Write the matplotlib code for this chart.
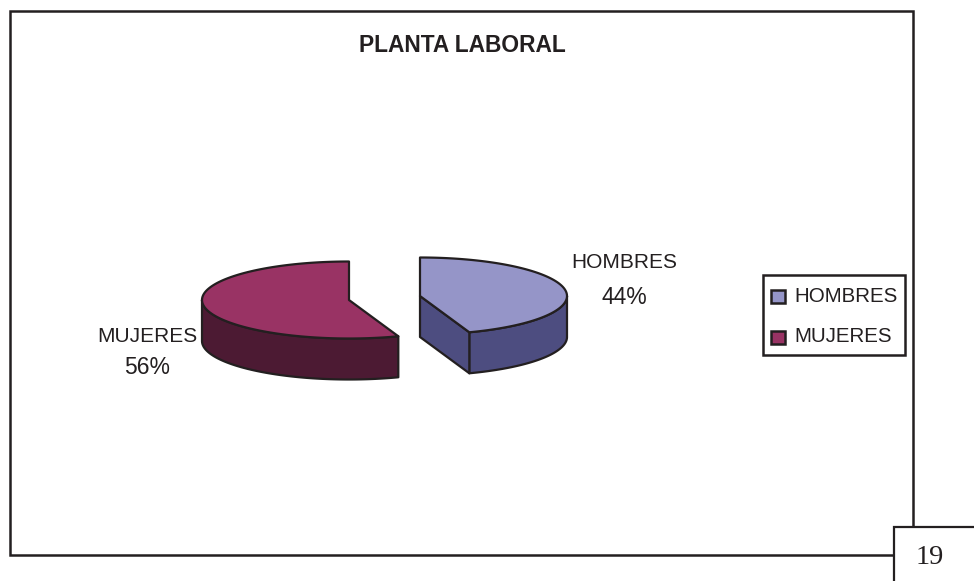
import numpy as np
import matplotlib
matplotlib.use("Agg")
import matplotlib.pyplot as plt
from matplotlib.patches import Polygon, Rectangle

# -----------------------------------------------------------------------------
# Data
# -----------------------------------------------------------------------------
categories = ["HOMBRES", "MUJERES"]
shares = [44, 56]
title = "PLANTA LABORAL"
page_number = "19"

top_colors = ["#9595c8", "#993364"]
side_colors = ["#4d4d80", "#4c1a33"]
INK = "#231f20"

plt.rcParams["font.family"] = ["Liberation Sans", "DejaVu Sans"]

# pixel coordinates, y pointing down
fig = plt.figure(figsize=(9.74, 5.81), dpi=100)
ax = fig.add_axes([0, 0, 1, 1])
ax.set_xlim(0, 974)
ax.set_ylim(581, 0)
ax.axis("off")

RX, RY, DEPTH = 147, 38.5, 41
VIEW_SKEW = 2  # the 3D view pushes the front cut a little further round


def rim(cx, cy, a0, a1):
    # angles in degrees, counterclockwise seen on screen
    t = np.radians(np.linspace(a0, a1, 120))
    return np.column_stack([cx + RX * np.cos(t), cy - RY * np.sin(t)])


def draw_slice(cx, cy, a0, a1, top, side):
    # outer wall: only the part of the rim facing the viewer (below the centre)
    lo = max(a0, 180)
    hi = min(a1, 360)
    if hi > lo:
        r = rim(cx, cy, lo, hi)
        wall = np.vstack([r, (r + [0, DEPTH])[::-1]])
        ax.add_patch(Polygon(wall, fc=side, ec=INK, lw=1.6, joinstyle="round"))
    # cut face on the clockwise end of a slice whose end lies front right
    if np.cos(np.radians(a0)) > 0 and a0 > 180:
        e = rim(cx, cy, a0, a0)[0]
        face = [(cx, cy), e, e + [0, DEPTH], (cx, cy + DEPTH)]
        ax.add_patch(Polygon(face, fc=side, ec=INK, lw=1.6, joinstyle="round"))
    pts = np.vstack([[(cx, cy)], rim(cx, cy, a0, a1)])
    ax.add_patch(Polygon(pts, fc=top, ec=INK, lw=1.6, joinstyle="round"))


# first slice runs clockwise from 12 o'clock, the second takes the rest
sweep = 360 * shares[0] / sum(shares)
end_angle = 90 - sweep - VIEW_SKEW + 360
draw_slice(420, 296, end_angle, 450, top_colors[0], side_colors[0])
draw_slice(349, 300, 90, end_angle, top_colors[1], side_colors[1])

# Data labels
ax.text(624, 262, categories[0], ha="center", va="center", fontsize=15, color=INK)
ax.text(624, 297, f"{shares[0]}%", ha="center", va="center", fontsize=16.5, color=INK)
ax.text(147, 337, categories[1], ha="center", va="center", fontsize=15, color=INK)
ax.text(147, 367, f"{shares[1]}%", ha="center", va="center", fontsize=16.5, color=INK)

ax.text(462, 45, title, ha="center", va="center", fontsize=16.4, fontweight="bold", color=INK)

# Legend box
ax.add_patch(Rectangle((763, 275), 142, 80, fc="white", ec=INK, lw=1.8))
for name, color, y in zip(categories, top_colors, [296, 337]):
    ax.add_patch(Rectangle((771, y - 6.5), 14, 13, fc=color, ec=INK, lw=1.8))
    ax.text(794, y, name, ha="left", va="center", fontsize=14.8, color=INK)

# Page frame and page number box
ax.plot([894, 10, 10, 913, 913], [555, 555, 11, 11, 527], color=INK, lw=1.8,
        solid_joinstyle="miter", solid_capstyle="butt")
ax.plot([974, 894, 894], [527, 527, 581], color=INK, lw=1.6,
        solid_joinstyle="miter", solid_capstyle="butt")
ax.text(930, 558, page_number, ha="center", va="center", fontsize=20.5,
        family=["Liberation Serif", "DejaVu Serif"], color=INK)

fig.savefig("out.png", dpi=100)
